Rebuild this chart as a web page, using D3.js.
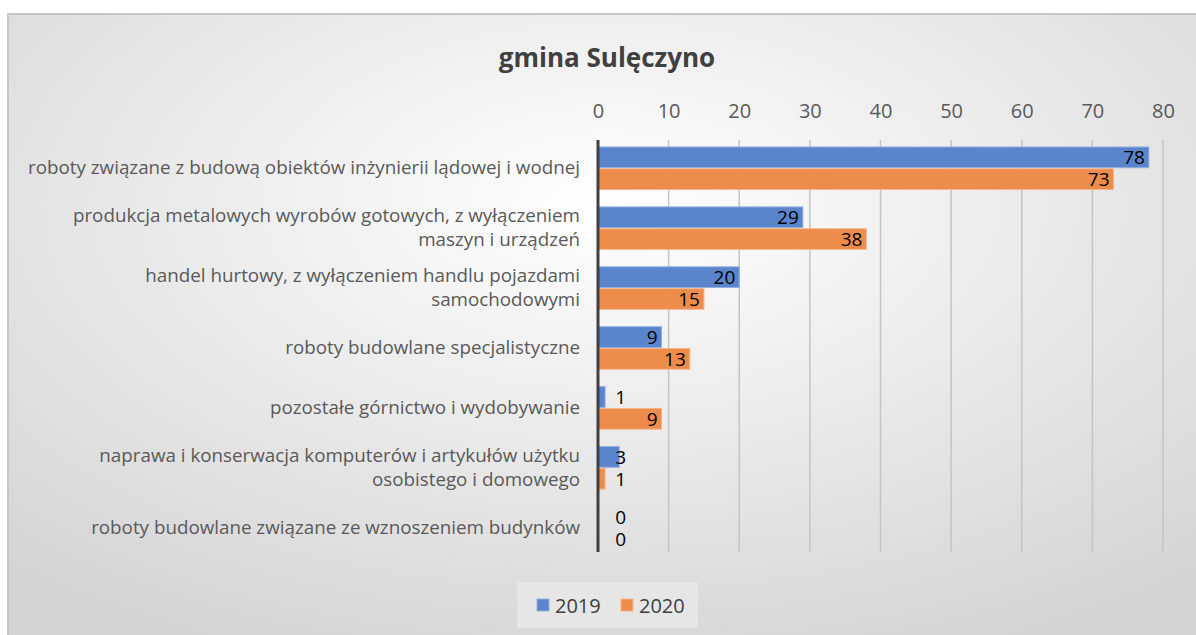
<!DOCTYPE html>
<html>
<head>
<meta charset="utf-8">
<script src="https://cdn.jsdelivr.net/npm/d3@7"></script>
<style>
  body { margin: 0; background: #fff; }
  svg text { font-family: "Open Sans", "Noto Sans", sans-serif; }
</style>
</head>
<body>
<svg id="chart" width="1196" height="635"></svg>
<script>
// data
const categories = [
  ["roboty związane z budową obiektów inżynierii lądowej i wodnej"],
  ["produkcja metalowych wyrobów gotowych, z wyłączeniem", "maszyn i urządzeń"],
  ["handel hurtowy, z wyłączeniem handlu pojazdami", "samochodowymi"],
  ["roboty budowlane specjalistyczne"],
  ["pozostałe górnictwo i wydobywanie"],
  ["naprawa i konserwacja komputerów i artykułów użytku", "osobistego i domowego"],
  ["roboty budowlane związane ze wznoszeniem budynków"]
];
const years = ["2019", "2020"];
const values2019 = [78, 29, 20, 9, 1, 3, 0];
const values2020 = [73, 38, 15, 13, 9, 1, 0];
const xTicks = [0, 10, 20, 30, 40, 50, 60, 70, 80];
const colors = { "2019": "#5a85cc", "2020": "#ee8c4c" };
const strokes = { "2019": "#93afe0", "2020": "#f5b68d" };

const svg = d3.select("#chart");

// background gradient
const defs = svg.append("defs");
const grad = defs.append("radialGradient")
    .attr("id", "bg")
    .attr("cx", "50%").attr("cy", "30%").attr("r", "75%");
grad.append("stop").attr("offset", "0%").attr("stop-color", "#ffffff");
grad.append("stop").attr("offset", "100%").attr("stop-color", "#d4d4d4");

svg.append("rect")
    .attr("x", 8).attr("y", 14)
    .attr("width", 1200).attr("height", 640)
    .attr("fill", "url(#bg)")
    .attr("stroke", "#c6c6c6")
    .attr("stroke-width", 2);

// title
svg.append("text")
    .attr("x", 607).attr("y", 67)
    .attr("text-anchor", "middle")
    .attr("font-size", 26)
    .attr("font-weight", "bold")
    .attr("fill", "#404040")
    .text("gmina Sulęczyno");

const x = d3.scaleLinear().domain([0, 80]).range([598, 1163]);
const y = d3.scaleBand().domain(d3.range(categories.length)).range([138, 558]).paddingInner(0.29).paddingOuter(0.15);
const y2 = d3.scaleBand().domain(years).range([0, y.bandwidth()]).paddingInner(0.05);

// gridlines
svg.append("g")
    .selectAll("line")
    .data(xTicks.slice(1))
    .enter().append("line")
    .attr("x1", d => x(d)).attr("x2", d => x(d))
    .attr("y1", 140).attr("y2", 552)
    .attr("stroke", "#c4c4c4")
    .attr("stroke-width", 1.5);

// top axis labels
const axis = svg.append("g")
    .attr("transform", "translate(0,118)")
    .call(d3.axisTop(x).tickValues(xTicks).tickSize(0).tickPadding(0));
axis.select(".domain").remove();
axis.selectAll("text")
    .attr("font-size", 20)
    .attr("fill", "#595959")
    .attr("font-family", "Open Sans, sans-serif");

// bars
const series = years.map(yr => ({ year: yr, values: yr === "2019" ? values2019 : values2020 }));

series.forEach(s => {
  const g = svg.append("g");
  g.selectAll("rect")
    .data(s.values)
    .enter().append("rect")
    .attr("x", x(0))
    .attr("y", (d, i) => y(i) + y2(s.year))
    .attr("width", d => x(d) - x(0))
    .attr("height", y2.bandwidth())
    .attr("fill", colors[s.year])
    .attr("stroke", d => d > 0 ? strokes[s.year] : "none")
    .attr("stroke-width", 1);

  g.selectAll("text")
    .data(s.values)
    .enter().append("text")
    .attr("x", d => Math.max(x(d) - 4, x(0) + 28))
    .attr("y", (d, i) => y(i) + y2(s.year) + y2.bandwidth() / 2 + 7)
    .attr("text-anchor", "end")
    .attr("font-size", 19)
    .attr("fill", "#000")
    .text(d => d);
});

// axis line at zero
svg.append("line")
    .attr("x1", x(0)).attr("x2", x(0))
    .attr("y1", 140).attr("y2", 552)
    .attr("stroke", "#404040")
    .attr("stroke-width", 3);

// category labels
const lab = svg.append("g");
categories.forEach((lines, i) => {
  const cy = y(i) + y.bandwidth() / 2;
  const t = lab.append("text")
    .attr("text-anchor", "end")
    .attr("font-size", 18.8)
    .attr("fill", "#595959");
  lines.forEach((ln, j) => {
    t.append("tspan")
      .attr("x", 580)
      .attr("y", cy + 6 + (j - (lines.length - 1) / 2) * 24)
      .text(ln);
  });
});

// legend
const leg = svg.append("g");
leg.append("rect")
    .attr("x", 517).attr("y", 582)
    .attr("width", 181).attr("height", 46)
    .attr("fill", "#e6e6e6");
years.forEach((yr, i) => {
  const lx = 537 + i * 84;
  leg.append("rect")
    .attr("x", lx).attr("y", 599)
    .attr("width", 12).attr("height", 12)
    .attr("fill", colors[yr])
    .attr("stroke", strokes[yr]);
  leg.append("text")
    .attr("x", lx + 18).attr("y", 613)
    .attr("font-size", 20)
    .attr("fill", "#404040")
    .text(yr);
});
</script>
</body>
</html>
